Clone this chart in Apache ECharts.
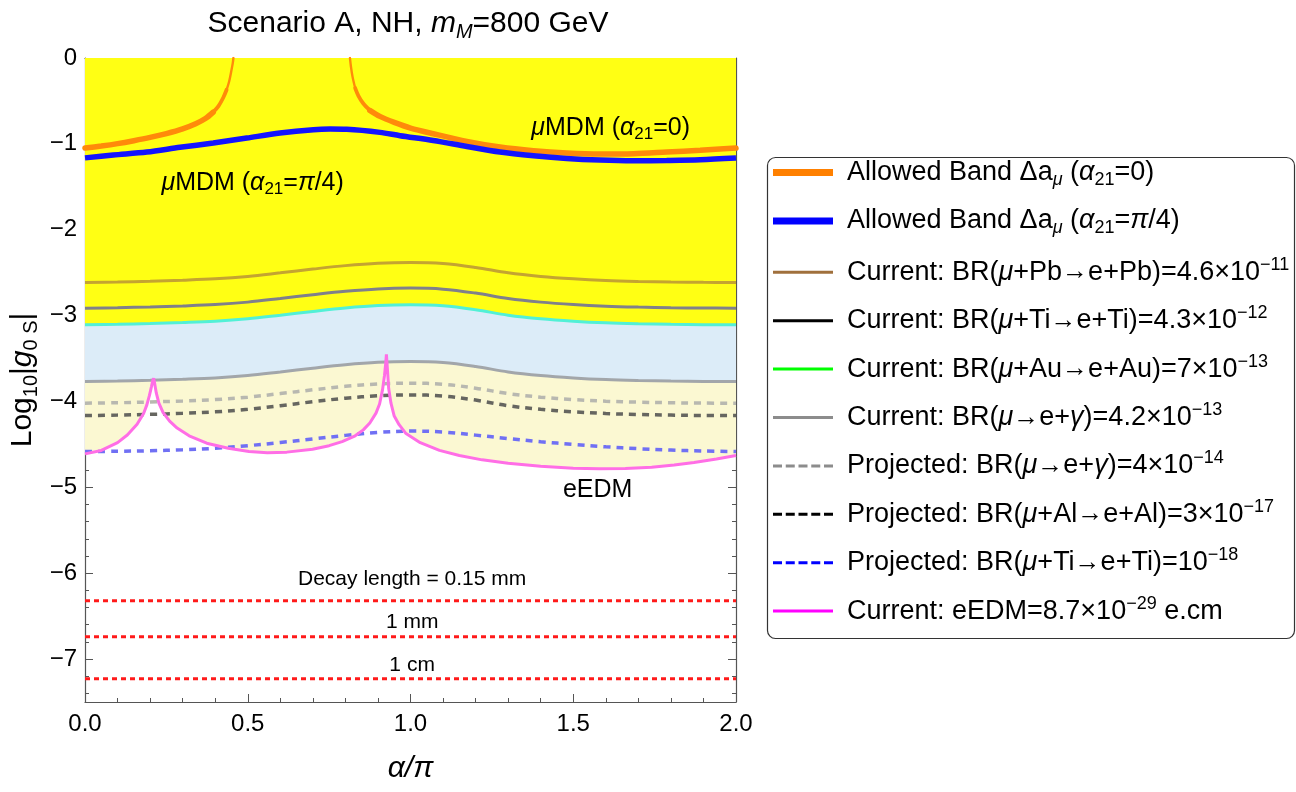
<!DOCTYPE html>
<html>
<head>
<meta charset="utf-8">
<script src="https://cdn.jsdelivr.net/npm/echarts@6/dist/echarts.min.js"></script>
<style>html,body{margin:0;padding:0;background:#fff}#c{width:1296px;height:792px}</style>
</head>
<body>
<div id="c"></div>
<script>
// ---------------- data ----------------
const alphaGrid = [0,0.1,0.2,0.3,0.4,0.5,0.6,0.7,0.8,0.9,1.0,1.1,1.2,1.3,1.4,1.5,1.6,1.7,1.8,1.9,2.0];
const brPbCurrent = [-2.614,-2.609,-2.600,-2.588,-2.572,-2.544,-2.502,-2.458,-2.418,-2.390,-2.381,-2.393,-2.439,-2.502,-2.544,-2.572,-2.591,-2.602,-2.609,-2.613,-2.614];
const brTiCurrent = [-2.913,-2.908,-2.899,-2.887,-2.871,-2.843,-2.801,-2.757,-2.717,-2.689,-2.680,-2.692,-2.738,-2.801,-2.843,-2.871,-2.890,-2.901,-2.908,-2.912,-2.913];
const brAuCurrent = [-3.107,-3.102,-3.093,-3.081,-3.065,-3.037,-2.995,-2.951,-2.911,-2.883,-2.874,-2.886,-2.932,-2.995,-3.037,-3.065,-3.084,-3.095,-3.102,-3.106,-3.107];
const megCurrent = [-3.768,-3.763,-3.754,-3.742,-3.726,-3.698,-3.656,-3.612,-3.572,-3.544,-3.535,-3.547,-3.593,-3.656,-3.698,-3.726,-3.745,-3.756,-3.763,-3.767,-3.768];
const megProjected = [-4.020,-4.015,-4.006,-3.994,-3.978,-3.950,-3.908,-3.864,-3.824,-3.796,-3.787,-3.799,-3.845,-3.908,-3.950,-3.978,-3.997,-4.008,-4.015,-4.019,-4.020];
const alProjected = [-4.164,-4.159,-4.150,-4.138,-4.121,-4.092,-4.049,-4.003,-3.962,-3.934,-3.924,-3.936,-3.984,-4.049,-4.092,-4.121,-4.140,-4.152,-4.159,-4.163,-4.164];
const tiProjected = [-4.583,-4.580,-4.574,-4.563,-4.545,-4.515,-4.478,-4.437,-4.395,-4.360,-4.345,-4.356,-4.392,-4.432,-4.469,-4.500,-4.528,-4.550,-4.566,-4.577,-4.583];

const orangeLeftAlpha = [0,0.05,0.1,0.15,0.2,0.25,0.3,0.34,0.37,0.394,0.41,0.425,0.435,0.443,0.449,0.454,0.456];
const orangeLeftVal = [-1.049,-1.025,-0.997,-0.963,-0.925,-0.880,-0.825,-0.765,-0.705,-0.630,-0.560,-0.460,-0.370,-0.270,-0.160,-0.060,0];
const orangeRightAlpha = [0.814,0.817,0.822,0.83,0.84,0.855,0.875,0.906,0.95,1.0,1.07,1.173,1.275,1.378,1.48,1.582,1.685,1.787,1.89,2.0];
const orangeRightVal = [0,-0.10,-0.22,-0.35,-0.44,-0.53,-0.61,-0.68,-0.75,-0.816,-0.882,-0.971,-1.037,-1.08,-1.107,-1.119,-1.115,-1.095,-1.074,-1.049];

const blueAlpha = [0,0.087,0.19,0.292,0.394,0.497,0.599,0.702,0.753,0.804,0.906,0.968,1.07,1.173,1.275,1.378,1.48,1.582,1.685,1.787,1.89,2.0];
const blueVal = [-1.163,-1.130,-1.095,-1.040,-0.990,-0.932,-0.874,-0.835,-0.828,-0.831,-0.866,-0.905,-0.960,-1.030,-1.095,-1.138,-1.170,-1.189,-1.197,-1.193,-1.185,-1.165];

const eedmAlpha = [0,0.05,0.10,0.13,0.16,0.18,0.19,0.198,0.204,0.208,0.211,0.214,0.219,0.227,0.240,0.260,0.283,0.32,0.374,0.44,0.504,0.56,0.62,0.699,0.75,0.79,0.83,0.855,0.875,0.894,0.905,0.914,0.920,0.924,0.926,0.929,0.933,0.940,0.950,0.965,0.985,1.03,1.089,1.15,1.22,1.30,1.40,1.50,1.58,1.66,1.741,1.81,1.871,1.94,2.00];
const eedmVal = [-4.610,-4.570,-4.480,-4.390,-4.265,-4.140,-4.040,-3.930,-3.830,-3.760,-3.730,-3.790,-3.900,-4.020,-4.130,-4.230,-4.310,-4.400,-4.486,-4.545,-4.583,-4.596,-4.590,-4.557,-4.515,-4.467,-4.400,-4.331,-4.250,-4.136,-4.030,-3.865,-3.700,-3.550,-3.450,-3.620,-3.850,-4.020,-4.170,-4.270,-4.369,-4.480,-4.570,-4.630,-4.680,-4.720,-4.755,-4.778,-4.785,-4.780,-4.765,-4.740,-4.710,-4.670,-4.630];

const decayLevels = [-6.32, -6.74, -7.23];
const decayLabelText = ['Decay length = 0.15 mm', '1 mm', '1 cm'];
const decayLabelAlpha = [1.005, 1.005, 1.005];
const decayLabelVal = [-6.07, -6.576, -7.069];

const annoAlpha = [1.615, 0.515, 1.575];
const annoVal = [-0.812, -1.455, -5.03];
const annoText = ['{i|μ}{n|MDM (}{i|α}{b|21}{n|=0)}', '{i|μ}{n|MDM (}{i|α}{b|21}{n|=}{i|π}{n|/4)}', '{n|eEDM}'];

const xRange = [0, 2];
const yRange = [-7.5, 0];
const yTickValues = [0,-1,-2,-3,-4,-5,-6,-7];
const yMinorTicks = [-0.2,-0.4,-0.6,-0.8,-1.2,-1.4,-1.6,-1.8,-2.2,-2.4,-2.6,-2.8,-3.2,-3.4,-3.6,-3.8,-4.2,-4.4,-4.6,-4.8,-5.2,-5.4,-5.6,-5.8,-6.2,-6.4,-6.6,-6.8,-7.2,-7.4];

const titleText = '{n|Scenario A, NH, }{i|m}{bi|M}{n|=800 GeV}';
const xName = 'α/π';
const yName = '{n|Log}{b|10}{n||}{i|g}{b|0 S}{n||}';

const N = [
  'Allowed Band Δaμ (α21=0)',
  'Allowed Band Δaμ (α21=π/4)',
  'Current: BR(μ+Pb→e+Pb)=4.6×10−11',
  'Current: BR(μ+Ti→e+Ti)=4.3×10−12',
  'Current: BR(μ+Au→e+Au)=7×10−13',
  'Current: BR(μ→e+γ)=4.2×10−13',
  'Projected: BR(μ→e+γ)=4×10−14',
  'Projected: BR(μ+Al→e+Al)=3×10−17',
  'Projected: BR(μ+Ti→e+Ti)=10−18',
  'Current: eEDM=8.7×10−29 e.cm'
];
const legendRich = [
  '{n|Allowed Band Δa}{bi|μ}{n| (}{i|α}{b|21}{n|=0)}',
  '{n|Allowed Band Δa}{bi|μ}{n| (}{i|α}{b|21}{n|=}{i|π}{n|/4)}',
  '{n|Current: BR(}{i|μ}{n|+Pb}{ar|→}{n|e+Pb)=4.6×10}{p|−11}',
  '{n|Current: BR(}{i|μ}{n|+Ti}{ar|→}{n|e+Ti)=4.3×10}{p|−12}',
  '{n|Current: BR(}{i|μ}{n|+Au}{ar|→}{n|e+Au)=7×10}{p|−13}',
  '{n|Current: BR(}{i|μ}{ar|→}{n|e+}{i|γ}{n|)=4.2×10}{p|−13}',
  '{n|Projected: BR(}{i|μ}{ar|→}{n|e+}{i|γ}{n|)=4×10}{p|−14}',
  '{n|Projected: BR(}{i|μ}{n|+Al}{ar|→}{n|e+Al)=3×10}{p|−17}',
  '{n|Projected: BR(}{i|μ}{n|+Ti}{ar|→}{n|e+Ti)=10}{p|−18}',
  '{n|Current: eEDM=8.7×10}{p|−29}{n| e.cm}'
];

// ---------------- styling / option ----------------
const FONT = "'Liberation Sans', Arial, Helvetica, sans-serif";
const AX = '#555';
const zip = (xs, ys) => xs.map((x, i) => [x, ys[i]]);

function richSet(size, lh, subSize, dSize) {
  const base = {fontFamily: FONT, color: '#000', fontWeight: 'normal', opacity: 1};
  const s = (o) => Object.assign({}, base, o);
  return {
    n: s({fontSize: size, lineHeight: lh}),
    i: s({fontSize: size, fontStyle: 'italic', lineHeight: lh}),
    b: s({fontSize: subSize, lineHeight: subSize, verticalAlign: 'bottom'}),
    bi: s({fontSize: subSize, fontStyle: 'italic', lineHeight: subSize, verticalAlign: 'bottom'}),
    p: s({fontSize: subSize, lineHeight: subSize + 3, verticalAlign: 'top'}),
    ar: s({fontSize: Math.round(size * 0.96), lineHeight: size, verticalAlign: 'middle'}),
    d: s({fontSize: dSize || 21, lineHeight: 26})
  };
}

function lineSeries(name, xs, ys, color, width, type, extra) {
  return Object.assign({
    type: 'line', name: name, data: zip(xs, ys), showSymbol: false, symbol: 'none',
    lineStyle: {color: color, width: width, type: type || 'solid', cap: 'butt'},
    itemStyle: {color: color}, silent: true, clip: true, smooth: 0.35
  }, extra || {});
}
function areaSeries(xs, ys, color, smooth) {
  return {
    type: 'line', name: '_fill', data: zip(xs, ys), showSymbol: false, symbol: 'none',
    lineStyle: {width: 0, opacity: 0}, areaStyle: {color: color, opacity: 1, origin: 'end'},
    silent: true, smooth: smooth
  };
}

const THICK = 'path://M0,0H60V7H0Z';
const THIN = 'path://M0,0H60V3H0Z';
const DASH = 'path://M0,0H9V3H0Z M12.75,0H21.75V3H12.75Z M25.5,0H34.5V3H25.5Z M38.25,0H47.25V3H38.25Z M51,0H60V3H51Z';
const legendIcons = [THICK, THICK, THIN, THIN, THIN, THIN, DASH, DASH, DASH, THIN];
const legendColors = ['#ff8000', '#0000ff', '#a0703c', '#000000', '#00ff00', '#8c8c8c', '#8c8c8c', '#000000', '#0000ff', '#ff00ff'];

const ORANGE = '#ff8a0a';
// orange band drawn thinner where it turns steep (style only; same data)
const orangeParts = [
  [orangeLeftAlpha.slice(0, 10), orangeLeftVal.slice(0, 10), 5.5],
  [orangeLeftAlpha.slice(9, 13), orangeLeftVal.slice(9, 13), 3.8],
  [orangeLeftAlpha.slice(12), orangeLeftVal.slice(12), 2.4],
  [orangeRightAlpha.slice(0, 4), orangeRightVal.slice(0, 4), 2.4],
  [orangeRightAlpha.slice(3, 7), orangeRightVal.slice(3, 7), 3.8],
  [orangeRightAlpha.slice(6), orangeRightVal.slice(6), 5.5]
];

const series = [
  areaSeries(eedmAlpha, eedmVal, '#fbf8d2', false),
  areaSeries(alphaGrid, megCurrent, '#dcecf8', 0.35),
  areaSeries(alphaGrid, brAuCurrent, '#ffff14', 0.35),
  lineSeries(N[2], alphaGrid, brPbCurrent, '#c4a431', 3),
  lineSeries(N[3], alphaGrid, brTiCurrent, '#80808a', 3),
  lineSeries(N[4], alphaGrid, brAuCurrent, '#52f0d6', 3),
  lineSeries(N[5], alphaGrid, megCurrent, '#a2a6aa', 3),
  lineSeries(N[6], alphaGrid, megProjected, '#b8b8b0', 3.5, [7, 6]),
  lineSeries(N[7], alphaGrid, alProjected, '#666660', 3.5, [7, 6]),
  lineSeries(N[8], alphaGrid, tiProjected, '#7070f4', 3.5, [7, 6]),
  lineSeries(N[9], eedmAlpha, eedmVal, '#ff6ee6', 3, 'solid', {smooth: false})
];
orangeParts.forEach(function (p) {
  series.push(lineSeries(N[0], p[0], p[1], ORANGE, p[2], 'solid', {smooth: 0.3, lineStyle: {color: ORANGE, width: p[2], cap: 'round'}}));
});
series.push(lineSeries(N[1], blueAlpha, blueVal, '#1414ff', 5.5, 'solid', {smooth: 0.3}));
decayLevels.forEach(function (lv) {
  series.push(lineSeries('_decay', xRange, [lv, lv], '#ff1a1a', 3, [5, 4], {smooth: false}));
});
series.push({
  type: 'scatter', name: '_anno', silent: true, symbolSize: 0, z: 10,
  itemStyle: {opacity: 1},
  data: zip(annoAlpha, annoVal).map(function (p, i) { return {value: p, label: {formatter: annoText[i]}}; }),
  label: {show: true, position: 'inside', color: '#000', opacity: 1, rich: richSet(25, 30, 17)}
});
series.push({
  type: 'scatter', name: '_decaylab', silent: true, symbolSize: 0, z: 10,
  itemStyle: {opacity: 1},
  data: zip(decayLabelAlpha, decayLabelVal).map(function (p, i) { return {value: p, label: {formatter: '{d|' + decayLabelText[i] + '}'}}; }),
  label: {show: true, position: 'inside', color: '#000', opacity: 1, rich: richSet(25, 30, 17, 21)}
});

function xAx(pos, labels) {
  return {
    type: 'value', min: xRange[0], max: xRange[1], interval: 0.5, position: pos,
    axisLine: {show: true, onZero: false, lineStyle: {color: AX, width: 1.2}},
    axisTick: {show: true, inside: true, length: 8, lineStyle: {color: AX, width: 1}},
    minorTick: {show: true, splitNumber: 5, length: 4, lineStyle: {color: AX, width: 1}},
    axisLabel: labels ? {show: true, margin: 10, fontSize: 24, fontFamily: FONT, color: '#000',
      showMinLabel: true, showMaxLabel: true, formatter: function (v) { return v.toFixed(1); }} : {show: false},
    splitLine: {show: false}, minorSplitLine: {show: false},
    name: labels ? xName : '', nameLocation: 'middle', nameGap: 52, nameMoveOverlap: false,
    nameTextStyle: {fontSize: 30, fontStyle: 'italic', fontFamily: FONT, color: '#000'}
  };
}
function yAx(pos, ticks, len, labels, line) {
  const a = {
    type: 'value', min: yRange[0], max: yRange[1], position: pos,
    axisLine: {show: line, onZero: false, lineStyle: {color: AX, width: 1.2}},
    axisTick: {show: true, inside: true, length: len, customValues: ticks, lineStyle: {color: AX, width: 1}},
    axisLabel: labels ? {show: true, margin: 8, fontSize: 24, fontFamily: FONT, color: '#000', customValues: ticks,
      formatter: function (v) { return v < 0 ? '\u2212' + Math.abs(v) : String(v); }} : {show: false},
    splitLine: {show: false}, minorTick: {show: false}
  };
  if (labels) {
    a.name = yName; a.nameLocation = 'middle'; a.nameGap = 44; a.nameMoveOverlap = false;
    a.nameTextStyle = {fontFamily: FONT, fontSize: 30, color: '#000', rich: richSet(30, 36, 20)};
  }
  return a;
}

const option = {
  animation: false,
  backgroundColor: '#ffffff',
  textStyle: {fontFamily: FONT},
  title: {
    text: titleText, left: 403, top: 1, textAlign: 'center',
    textStyle: {fontFamily: FONT, fontSize: 30, fontWeight: 'normal', color: '#000', rich: richSet(30, 36, 20)}
  },
  grid: {left: 85, right: 560, top: 58, bottom: 90, containLabel: false, outerBoundsMode: 'none'},
  xAxis: [xAx('bottom', true), xAx('top', false)],
  yAxis: [yAx('left', yTickValues, 8, true, true), yAx('left', yMinorTicks, 4, false, false),
          yAx('right', yTickValues, 8, false, true), yAx('right', yMinorTicks, 4, false, false)],
  legend: {
    orient: 'vertical', left: 773, top: 159, padding: 0, itemGap: 18.4, itemWidth: 60, itemHeight: 14,
    selectedMode: false, symbolKeepAspect: true,
    data: N.map(function (nm, i) {
      return {name: nm, icon: legendIcons[i], itemStyle: {color: legendColors[i], borderWidth: 0, borderColor: legendColors[i], opacity: 1}};
    }),
    formatter: function (name) { return legendRich[N.indexOf(name)]; },
    textStyle: {padding: [0, 0, 0, 9], rich: richSet(27, 33, 18)}
  },
  graphic: [{
    type: 'rect', left: 765, top: 155, silent: true, z: -1,
    shape: {width: 527, height: 481, r: 8},
    style: {fill: 'none', stroke: '#333', lineWidth: 1.2}
  }],
  series: series
};

const chart = echarts.init(document.getElementById('c'), null, {renderer: 'canvas', width: 1296, height: 792});
chart.setOption(option);
</script>
</body>
</html>
